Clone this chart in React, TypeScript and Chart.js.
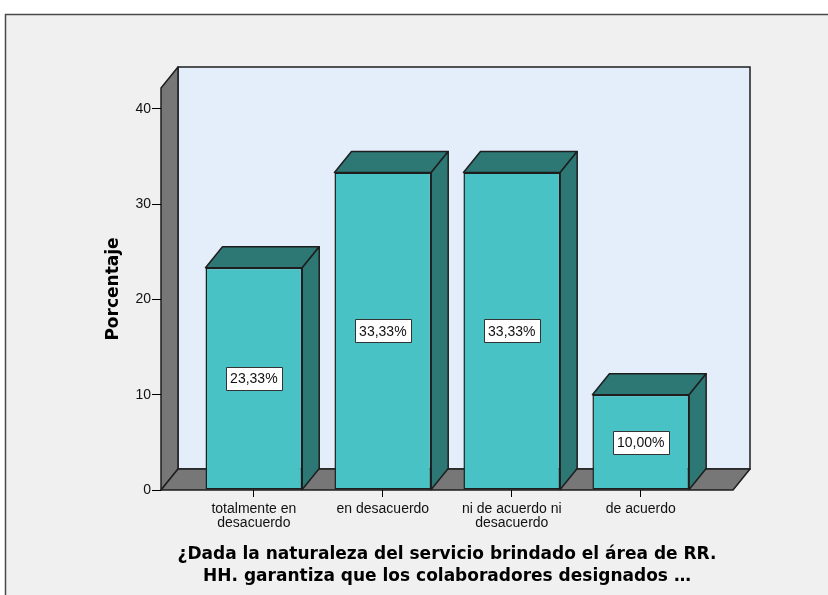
import React, { useEffect, useRef } from "react";
import { Chart, registerables } from "chart.js";

Chart.register(...registerables);

// ---- data ----
const categories: string[][] = [
  ["totalmente en", "desacuerdo"],
  ["en desacuerdo"],
  ["ni de acuerdo ni", "desacuerdo"],
  ["de acuerdo"],
];
const categoryPositions = [0, 1, 2, 3];
const percentages = [23.33, 33.33, 33.33, 10.0];
const yTicks = [0, 10, 20, 30, 40];
const yAxisTitle = "Porcentaje";
const xAxisTitle = [
  "¿Dada la naturaleza del servicio brindado el área de RR.",
  "HH. garantiza que los colaboradores designados …",
];

// ---- styles ----
const FONT = "'Liberation Sans', Arial, sans-serif";
const TITLE_FONT = "'DejaVu Sans', Verdana, sans-serif";
const BG = "#F0F0F0";
const WALL = "#E3EEFA";
const GRAY = "#777777";
const FRONT = "#48C2C5";
const DARK = "#2D7775";
const EDGE = "#1E1E1E";
const DX = 17;
const DY = -21;

function poly(ctx: CanvasRenderingContext2D, pts: number[][], fill: string, stroke: string) {
  ctx.beginPath();
  ctx.moveTo(pts[0][0], pts[0][1]);
  for (let i = 1; i < pts.length; i++) ctx.lineTo(pts[i][0], pts[i][1]);
  ctx.closePath();
  ctx.fillStyle = fill;
  ctx.fill();
  ctx.strokeStyle = stroke;
  ctx.lineWidth = 1.5;
  ctx.lineJoin = "round";
  ctx.stroke();
}

const frame3d = {
  id: "frame3d",
  beforeDraw(chart: any) {
    const { ctx, chartArea: a, width, height } = chart;
    ctx.save();
    ctx.fillStyle = "#FFFFFF";
    ctx.fillRect(0, 0, width, height);
    ctx.fillStyle = BG;
    ctx.fillRect(5, 14, width, height);
    ctx.strokeStyle = "#4A4A4A";
    ctx.lineWidth = 1.5;
    ctx.strokeRect(5.5, 14.5, width + 20, height + 20);
    const L = a.left, R = a.right, T = a.top, B = a.bottom;
    // back wall
    ctx.fillStyle = WALL;
    ctx.fillRect(L + DX, T + DY, R - L, B - T);
    ctx.strokeStyle = EDGE;
    ctx.lineWidth = 1.5;
    ctx.strokeRect(L + DX, T + DY, R - L, B - T);
    // left wall
    poly(ctx, [[L, T], [L + DX, T + DY], [L + DX, B + DY], [L, B]], GRAY, EDGE);
    // floor
    poly(ctx, [[L, B], [L + DX, B + DY], [R + DX, B + DY], [R, B]], GRAY, EDGE);
    ctx.restore();
  },
  afterDatasetsDraw(chart: any) {
    const { ctx } = chart;
    const meta = chart.getDatasetMeta(0);
    ctx.save();
    meta.data.forEach((bar: any, i: number) => {
      const { x, y, base, width } = bar.getProps(["x", "y", "base", "width"], true);
      const l = x - width / 2;
      const r = x + width / 2;
      poly(ctx, [[l, y], [l + DX, y + DY], [r + DX, y + DY], [r, y]], DARK, EDGE);
      poly(ctx, [[r, y], [r + DX, y + DY], [r + DX, base + DY], [r, base]], DARK, EDGE);
      // value label
      const txt = percentages[i].toFixed(2).replace(".", ",") + "%";
      ctx.font = `14px ${FONT}`;
      const tw = ctx.measureText(txt).width;
      const bw = Math.round(tw + 9);
      const bh = 23;
      const cy = (y + base) / 2;
      const bx = Math.round(x - bw / 2) + 0.5;
      const by = Math.round(cy - bh / 2) + 0.5;
      ctx.fillStyle = "#FFFFFF";
      ctx.fillRect(bx, by, bw, bh);
      ctx.strokeStyle = "#333333";
      ctx.lineWidth = 1;
      ctx.strokeRect(bx, by, bw, bh);
      ctx.fillStyle = "#111111";
      ctx.textAlign = "center";
      ctx.textBaseline = "middle";
      ctx.fillText(txt, x, cy + 1);
    });
    ctx.restore();
  },
};

export default function App() {
  const ref = useRef<HTMLCanvasElement | null>(null);

  useEffect(() => {
    if (!ref.current) return;
    const chart = new Chart(ref.current, {
      type: "bar",
      data: {
        datasets: [
          {
            data: categoryPositions.map((p, i) => ({ x: p, y: percentages[i] })),
            backgroundColor: FRONT,
            borderColor: EDGE,
            borderWidth: 1.5,
            borderSkipped: false,
            categoryPercentage: 1,
            barPercentage: 0.75,
          },
        ],
      },
      options: {
        responsive: false,
        animation: false,
        events: [],
        layout: { padding: { left: 98, right: 95, top: 88, bottom: 7 } },
        plugins: { legend: { display: false }, tooltip: { enabled: false } },
        scales: {
          x: {
            type: "linear",
            offset: false,
            min: -0.72,
            max: 3.715,
            afterBuildTicks: (s: any) => {
              s.ticks = categoryPositions.map((v) => ({ value: v }));
            },
            afterFit: (s: any) => {
              s.height = 98;
            },
            grid: {
              display: true,
              offset: false,
              drawOnChartArea: false,
              drawTicks: true,
              tickLength: 7,
              color: "#000",
              lineWidth: 1,
            },
            border: { display: false },
            ticks: {
              autoSkip: false,
              maxRotation: 0,
              padding: 5,
              color: "#111",
              font: { family: FONT, size: 14, lineHeight: 1.0 },
              callback: (_v: any, i: number) => categories[i],
            },
            title: {
              display: true,
              text: xAxisTitle,
              color: "#000",
              font: { family: TITLE_FONT, size: 17, weight: "bold", lineHeight: 1.3 },
              padding: { top: 0, bottom: 0 },
            },
          },
          y: {
            type: "linear",
            min: 0,
            max: 42.2,
            afterBuildTicks: (s: any) => {
              s.ticks = yTicks.map((v) => ({ value: v }));
            },
            afterFit: (s: any) => {
              s.width = 63;
            },
            grid: {
              display: true,
              drawOnChartArea: false,
              drawTicks: true,
              tickLength: 9,
              color: "#000",
              lineWidth: 1,
            },
            border: { display: false },
            ticks: {
              padding: 1,
              color: "#111",
              font: { family: FONT, size: 14 },
            },
            title: {
              display: true,
              text: yAxisTitle,
              color: "#000",
              font: { family: TITLE_FONT, size: 17, weight: "bold", lineHeight: 1.2 },
              padding: { top: 5, bottom: 4 },
            },
          },
        },
      },
      plugins: [frame3d],
    });
    return () => chart.destroy();
  }, []);

  return (
    <div style={{ position: "absolute", left: 0, top: 0, width: 828, height: 595 }}>
      <canvas ref={ref} width={828} height={595} style={{ width: 828, height: 595, display: "block" }} />
    </div>
  );
}
